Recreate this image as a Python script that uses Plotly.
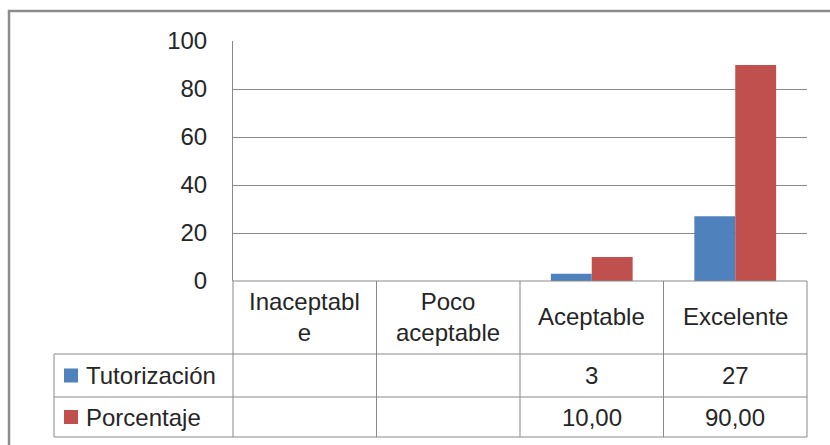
import plotly.graph_objects as go

# ---- data ----
categories = ["Inaceptable", "Poco aceptable", "Aceptable", "Excelente"]
header_labels = ["Inaceptabl<br>e", "Poco<br>aceptable", "Aceptable", "Excelente"]
series_names = ["Tutorización", "Porcentaje"]
tutorizacion = [None, None, 3, 27]
porcentaje = [None, None, 10.00, 90.00]
y_ticks = [0, 20, 40, 60, 80, 100]

colors = ["#4F81BD", "#C0504D"]
grid_col = "#898989"
text_col = "#262626"
FONT = "Liberation Sans"
FS = 24

W, H = 830, 445
PL, PR, PT, PB = 233, 807, 41, 281  # plot area in pixels


def px(xp):
    return (xp - PL) / (PR - PL)


def py(yp):
    return (PB - yp) / (PB - PT)


fig = go.Figure()
for name, vals, c in zip(series_names, [tutorizacion, porcentaje], colors):
    fig.add_trace(go.Bar(x=categories, y=vals, name=name, marker_color=c,
                         marker_line_width=0, showlegend=False))

shapes = []
annotations = []

# table geometry (pixels)
row_tops = [PB, 354, 397, 437]
legend_left = 54
ncat = len(categories)
col_edges = [PL + i * (PR - PL) / ncat for i in range(ncat + 1)]

line = dict(color=grid_col, width=1)
# horizontal table lines
shapes.append(dict(type="line", xref="paper", yref="paper", x0=0, x1=1,
                   y0=py(row_tops[0]), y1=py(row_tops[0]), line=line))
for yv in row_tops[1:]:
    shapes.append(dict(type="line", xref="paper", yref="paper",
                       x0=px(legend_left), x1=1, y0=py(yv), y1=py(yv), line=line))
# vertical table lines
for xe in col_edges:
    shapes.append(dict(type="line", xref="paper", yref="paper", x0=px(xe), x1=px(xe),
                       y0=py(row_tops[0]), y1=py(row_tops[-1]), line=line))
shapes.append(dict(type="line", xref="paper", yref="paper", x0=px(legend_left),
                   x1=px(legend_left), y0=py(row_tops[1]), y1=py(row_tops[-1]), line=line))

# header labels
for i, lab in enumerate(header_labels):
    cx = (col_edges[i] + col_edges[i + 1]) / 2
    annotations.append(dict(xref="paper", yref="paper", x=px(cx),
                            y=py((row_tops[0] + row_tops[1]) / 2 - 1),
                            text=lab, showarrow=False, xanchor="center", yanchor="middle",
                            font=dict(family=FONT, size=FS, color=text_col)))

# data rows
rows = [
    [("" if v is None else str(int(v))) for v in tutorizacion],
    [("" if v is None else f"{v:.2f}".replace(".", ",")) for v in porcentaje],
]
for r, (name, vals, c) in enumerate(zip(series_names, rows, colors)):
    top, bot = row_tops[r + 1], row_tops[r + 2]
    cy = (top + bot) / 2
    # legend key
    shapes.append(dict(type="rect", xref="paper", yref="paper",
                       x0=px(64), x1=px(78), y0=py(cy - 7), y1=py(cy + 7),
                       fillcolor=c, line=dict(width=0)))
    annotations.append(dict(xref="paper", yref="paper", x=px(84), y=py(cy),
                            text=name, showarrow=False, xanchor="left", yanchor="middle",
                            font=dict(family=FONT, size=FS, color=text_col)))
    for i, t in enumerate(vals):
        if t:
            cx = (col_edges[i] + col_edges[i + 1]) / 2
            annotations.append(dict(xref="paper", yref="paper", x=px(cx), y=py(cy),
                                    text=t, showarrow=False, xanchor="center", yanchor="middle",
                                    font=dict(family=FONT, size=FS, color=text_col)))

# outer chart border
shapes.append(dict(type="rect", xref="paper", yref="paper",
                   x0=px(9), x1=px(W + 20), y0=py(11), y1=py(H + 20),
                   line=dict(color="#8C8C8C", width=2.5), fillcolor="rgba(0,0,0,0)"))

fig.update_layout(
    width=W, height=H, autosize=False,
    margin=dict(l=PL, r=W - PR, t=PT, b=H - PB, pad=0),
    paper_bgcolor="white", plot_bgcolor="white",
    barmode="group", bargap=0.43, bargroupgap=0,
    shapes=shapes, annotations=annotations,
    xaxis=dict(range=[-0.5, ncat - 0.5], showticklabels=False, showgrid=False,
               zeroline=False, showline=False, ticks=""),
    yaxis=dict(range=[0, 100], tickvals=y_ticks, showgrid=True, gridcolor=grid_col,
               gridwidth=1, zeroline=False, showline=True, linecolor=grid_col, linewidth=1,
               ticks="", ticklabelstandoff=20,
               tickfont=dict(family=FONT, size=FS, color=text_col)),
    font=dict(family=FONT, size=FS, color=text_col),
)

fig.write_html(
    "out.html",
    config={"displayModeBar": False},
    post_script="document.body.style.margin='0';document.body.style.overflow='hidden';",
)
